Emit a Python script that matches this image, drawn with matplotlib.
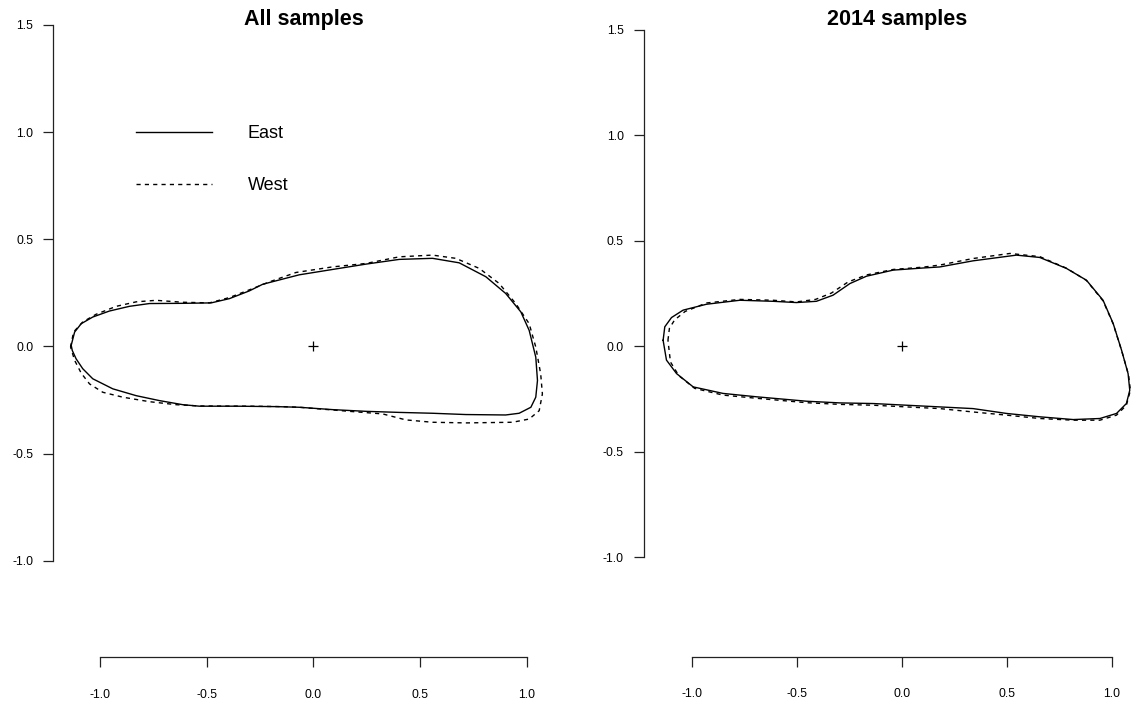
import numpy as np
import matplotlib
matplotlib.use('Agg')
import matplotlib.pyplot as plt

plt.rcParams['font.family'] = ['Liberation Sans', 'DejaVu Sans']
plt.rcParams['lines.scale_dashes'] = False

# outlines (clockwise from leftmost point)
east_all_x = [-1.135, -1.119, -1.088, -1.034, -0.956, -0.862, -0.768, -0.612, -0.479, -0.393, -0.300,
              -0.237, -0.144, -0.066, 0.090, 0.247, 0.403, 0.559, 0.684, 0.809, 0.902, 0.973, 1.012,
              1.043, 1.051, 1.043, 1.020, 0.965, 0.902, 0.715, 0.559, 0.403, 0.247, 0.090, -0.066,
              -0.175, -0.362, -0.534, -0.612, -0.721, -0.830, -0.940, -1.034, -1.081, -1.112, -1.130, -1.135]
east_all_y = [0.005, 0.067, 0.106, 0.137, 0.165, 0.187, 0.200, 0.201, 0.203, 0.223, 0.259,
              0.290, 0.314, 0.334, 0.359, 0.384, 0.406, 0.411, 0.390, 0.325, 0.247, 0.161, 0.075,
              -0.050, -0.159, -0.237, -0.284, -0.312, -0.320, -0.318, -0.312, -0.308, -0.303, -0.295, -0.284,
              -0.281, -0.279, -0.279, -0.272, -0.253, -0.230, -0.198, -0.151, -0.104, -0.058, -0.019, 0.005]

west_all_x = [-1.138, -1.124, -1.081, -1.018, -0.924, -0.830, -0.737, -0.612, -0.487, -0.393, -0.284,
              -0.206, -0.081, 0.090, 0.247, 0.403, 0.559, 0.668, 0.778, 0.871, 0.949, 1.012, 1.043,
              1.066, 1.074, 1.059, 1.012, 0.934, 0.715, 0.559, 0.434, 0.325, 0.169, -0.066, -0.144,
              -0.300, -0.534, -0.643, -0.768, -0.893, -0.987, -1.049, -1.088, -1.119, -1.138]
west_all_y = [-0.003, 0.067, 0.114, 0.150, 0.187, 0.208, 0.215, 0.206, 0.203, 0.228, 0.270,
              0.301, 0.345, 0.371, 0.387, 0.418, 0.426, 0.411, 0.364, 0.294, 0.200, 0.106, -0.003,
              -0.128, -0.222, -0.300, -0.339, -0.354, -0.357, -0.354, -0.343, -0.315, -0.303, -0.284, -0.281,
              -0.279, -0.278, -0.272, -0.258, -0.237, -0.214, -0.175, -0.125, -0.065, -0.003]

east_2014_x = [-1.135, -1.127, -1.095, -1.040, -0.929, -0.770, -0.612, -0.501, -0.406, -0.327, -0.247,
               -0.168, -0.041, 0.101, 0.181, 0.339, 0.545, 0.656, 0.783, 0.878, 0.957, 1.005, 1.045,
               1.076, 1.084, 1.068, 1.021, 0.942, 0.815, 0.656, 0.498, 0.339, 0.181, -0.136, -0.295,
               -0.453, -0.691, -0.850, -0.992, -1.071, -1.119, -1.135]
east_2014_y = [0.028, 0.092, 0.136, 0.171, 0.199, 0.218, 0.213, 0.207, 0.213, 0.242, 0.297,
               0.332, 0.361, 0.371, 0.376, 0.405, 0.432, 0.421, 0.369, 0.313, 0.218, 0.108, -0.019,
               -0.130, -0.209, -0.272, -0.319, -0.343, -0.348, -0.335, -0.319, -0.296, -0.288, -0.272, -0.269,
               -0.261, -0.240, -0.224, -0.193, -0.130, -0.066, 0.028]

west_2014_x = [-1.112, -1.105, -1.080, -1.030, -0.929, -0.770, -0.612, -0.501, -0.410, -0.335, -0.255,
               -0.168, -0.041, 0.101, 0.181, 0.339, 0.514, 0.656, 0.783, 0.878, 0.957, 1.005, 1.045,
               1.078, 1.087, 1.068, 1.021, 0.942, 0.815, 0.656, 0.498, 0.339, 0.181, -0.136, -0.295,
               -0.453, -0.691, -0.850, -0.985, -1.060, -1.100, -1.112]
west_2014_y = [0.028, 0.085, 0.125, 0.165, 0.205, 0.222, 0.218, 0.210, 0.222, 0.252, 0.305,
               0.338, 0.364, 0.375, 0.385, 0.416, 0.440, 0.425, 0.370, 0.312, 0.215, 0.106, -0.020,
               -0.135, -0.209, -0.280, -0.327, -0.351, -0.351, -0.343, -0.327, -0.312, -0.296, -0.280, -0.276,
               -0.268, -0.247, -0.232, -0.200, -0.140, -0.075, 0.028]

centre_x = [0.0]
centre_y = [0.0]

xticks = [-1.0, -0.5, 0.0, 0.5, 1.0]
yticks = [-1.0, -0.5, 0.0, 0.5, 1.0, 1.5]
titles = ['All samples', '2014 samples']

W, H = 1137, 707
fig = plt.figure(figsize=(W/100, H/100), dpi=100)

def panel(left, right, top, bottom, xlim, ylim):
    ax = fig.add_axes([left/W, 1 - bottom/H, (right-left)/W, (bottom-top)/H])
    ax.set_xlim(xlim)
    ax.set_ylim(ylim)
    for s in ['top', 'right']:
        ax.spines[s].set_visible(False)
    ax.spines['left'].set_bounds(-1, 1.5)
    ax.spines['bottom'].set_bounds(-1, 1)
    for s in ['left', 'bottom']:
        ax.spines[s].set_linewidth(0.9)
        ax.spines[s].set_color('#222222')
    ax.set_xticks(xticks)
    ax.set_yticks(yticks)
    ax.set_xticklabels(['%.1f' % v for v in xticks])
    ax.set_yticklabels(['%.1f' % v for v in yticks])
    ax.tick_params(axis='both', direction='out', length=7.5, width=0.9, color='#222222', labelsize=8.8)
    ax.tick_params(axis='x', pad=15)
    ax.tick_params(axis='y', pad=7)
    ax.patch.set_alpha(0)
    return ax

# left panel: x px = 313.3 + 213.3*x, y px = 346.4 - 214.3*y
ax1 = panel(53.3, 553, 8, 657.3,
            ((53.3-313.3)/213.3, (553-313.3)/213.3),
            ((346.4-657.3)/214.3, (346.4-8)/214.3))
# right panel: x px = 901.8 + 210.3*x, y px = 346.2 - 210.8*y
ax2 = panel(644, 1137, 8, 657,
            ((644-901.8)/210.3, (1137-901.8)/210.3),
            ((346.2-657)/210.8, (346.2-8)/210.8))

for ax, ex, ey, wx, wy in [(ax1, east_all_x, east_all_y, west_all_x, west_all_y),
                           (ax2, east_2014_x, east_2014_y, west_2014_x, west_2014_y)]:
    ax.plot(ex, ey, color='black', lw=1.0, label='East')
    ax.plot(wx, wy, color='black', lw=1.0, linestyle=(0, (3, 3)), label='West')
    ax.plot(centre_x, centre_y, marker='+', ms=7, mew=0.9, color='black', linestyle='none')

leg = ax1.legend(loc='upper left', bbox_to_anchor=((136-53.3)/(553-53.3), (657.3-125)/(657.3-8)),
                 frameon=False, fontsize=13, handlelength=4.2, handletextpad=2.0,
                 labelspacing=1.95, borderpad=0, borderaxespad=0)

fig.text(303.5/W, 1 - 19/H, titles[0], ha='center', va='center', fontsize=15.5, fontweight='bold')
fig.text(897/W, 1 - 19/H, titles[1], ha='center', va='center', fontsize=15.5, fontweight='bold')

fig.savefig('out.png', dpi=100)
